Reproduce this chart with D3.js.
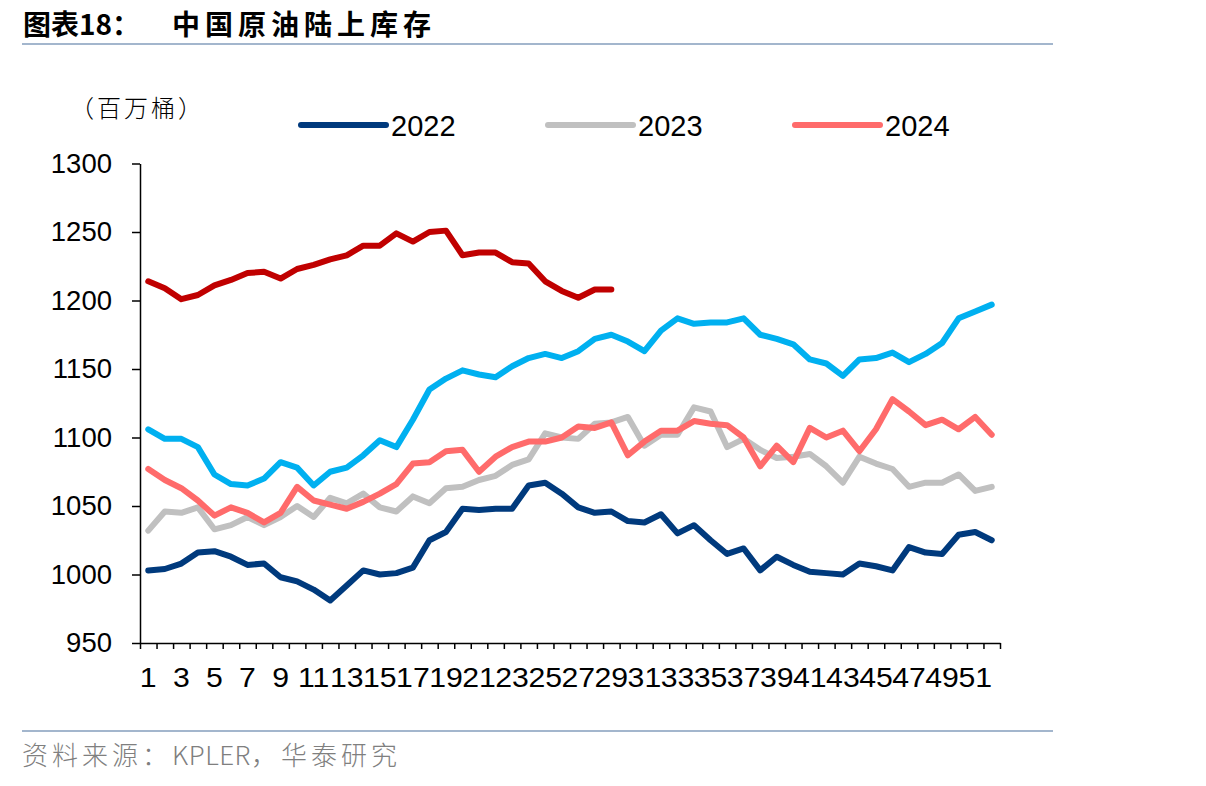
<!DOCTYPE html>
<html>
<head>
<meta charset="utf-8">
<script src="https://cdn.jsdelivr.net/npm/d3@7"></script>
<style>
    body { margin: 0; background: #fff; }
    svg { display: block; }
</style>
</head>
<body>
<div id="chart"></div>
<script>
const width = 1206;
const height = 786;

// week numbers on the category axis
const weeks = [1, 2, 3, 4, 5, 6, 7, 8, 9, 10, 11, 12, 13, 14, 15, 16, 17, 18, 19, 20,
    21, 22, 23, 24, 25, 26, 27, 28, 29, 30, 31, 32, 33, 34, 35, 36, 37, 38, 39, 40,
    41, 42, 43, 44, 45, 46, 47, 48, 49, 50, 51, 52];
const weekLabels = [1, 3, 5, 7, 9, 11, 13, 15, 17, 19, 21, 23, 25, 27, 29, 31, 33, 35,
    37, 39, 41, 43, 45, 47, 49, 51];
const yTicks = [950, 1000, 1050, 1100, 1150, 1200, 1250, 1300];

// million barrels
const values2022 = [1003, 1004, 1008, 1016, 1017, 1013, 1007, 1008, 998, 995, 989, 981, 992,
    1003, 1000, 1001, 1005, 1025, 1031, 1048, 1047, 1048, 1048, 1065, 1067, 1059, 1049,
    1045, 1046, 1039, 1038, 1044, 1030, 1036, 1025, 1015, 1019, 1003, 1013, 1007, 1002,
    1001, 1000, 1008, 1006, 1003, 1020, 1016, 1015, 1029, 1031, 1025];
const values2023 = [1032, 1046, 1045, 1049, 1033, 1036, 1042, 1036, 1042, 1050, 1042, 1056,
    1052, 1059, 1049, 1046, 1057, 1052, 1063, 1064, 1069, 1072, 1080, 1084, 1103, 1100,
    1099, 1110, 1111, 1115, 1094, 1102, 1102, 1122, 1119, 1093, 1099, 1091, 1085, 1086,
    1088, 1079, 1067, 1086, 1081, 1077, 1064, 1067, 1067, 1073, 1061, 1064];
const values2024 = [1077, 1069, 1063, 1054, 1043, 1049, 1045, 1038, 1045, 1064, 1054, 1051,
    1048, 1053, 1059, 1066, 1081, 1082, 1090, 1091, 1075, 1086, 1093, 1097, 1097, 1100,
    1108, 1107, 1111, 1087, 1097, 1105, 1105, 1112, 1110, 1109, 1100, 1079, 1094, 1082,
    1107, 1100, 1105, 1090, 1106, 1128, 1119, 1109, 1113, 1106, 1115, 1102];
// two further series drawn without a legend entry
const valuesLightBlue = [1106, 1099, 1099, 1093, 1073, 1066, 1065, 1070, 1082, 1078, 1065,
    1075, 1078, 1087, 1098, 1093, 1113, 1135, 1143, 1149, 1146, 1144, 1152, 1158, 1161,
    1158, 1163, 1172, 1175, 1170, 1163, 1178, 1187, 1183, 1184, 1184, 1187, 1175, 1172,
    1168, 1157, 1154, 1145, 1157, 1158, 1162, 1155, 1161, 1169, 1187, 1192, 1197];
const valuesDarkRed = [1214, 1209, 1201, 1204, 1211, 1215, 1220, 1221, 1216, 1223, 1226,
    1230, 1233, 1240, 1240, 1249, 1243, 1250, 1251, 1233, 1235, 1235, 1228, 1227, 1214,
    1207, 1202, 1208, 1208];

const color = {
    y2022: '#003a7d',
    y2023: '#c0c0c0',
    y2024: '#ff6b6b',
    lightBlue: '#00b0f0',
    darkRed: '#c00000'
};

// drawing order: later series sit on top
const series = [
    { name: '2022', values: values2022, color: color.y2022, legend: true },
    { name: '2023', values: values2023, color: color.y2023, legend: true },
    { name: '2024', values: values2024, color: color.y2024, legend: true },
    { name: 'lightBlue', values: valuesLightBlue, color: color.lightBlue, legend: false },
    { name: 'darkRed', values: valuesDarkRed, color: color.darkRed, legend: false }
];

const numFont = '"Liberation Sans", Arial, sans-serif';
const cjkFont = '"Noto Sans CJK SC", "Noto Sans", sans-serif';

const plot = { left: 140, right: 1000, top: 163.5, bottom: 643 };

const svg = d3.select('#chart').append('svg')
    .attr('width', width)
    .attr('height', height)
    .attr('viewBox', '0 0 ' + width + ' ' + height);

// header
svg.append('text')
    .attr('x', 23)
    .attr('y', 35)
    .style('font-family', cjkFont)
    .style('font-weight', 700)
    .style('font-size', '28px')
    .style('fill', '#000')
    .text('图表18：');
svg.append('text')
    .attr('x', 172)
    .attr('y', 35)
    .style('font-family', cjkFont)
    .style('font-weight', 700)
    .style('font-size', '28px')
    .style('letter-spacing', '5px')
    .style('fill', '#000')
    .text('中国原油陆上库存');
svg.append('line')
    .attr('x1', 22).attr('x2', 1053)
    .attr('y1', 44).attr('y2', 44)
    .style('stroke', '#a3b6cd')
    .style('stroke-width', 2);

// footer
svg.append('line')
    .attr('x1', 22).attr('x2', 1053)
    .attr('y1', 731).attr('y2', 731)
    .style('stroke', '#a3b6cd')
    .style('stroke-width', 2);
const source = svg.append('text')
    .attr('x', 22)
    .attr('y', 765)
    .style('font-family', cjkFont)
    .style('font-weight', 300)
    .style('font-size', '26px')
    .style('fill', '#7f7f7f');
source.append('tspan').style('letter-spacing', '4px').text('资料来源：');
source.append('tspan').style('letter-spacing', '0.5px').text('KPLER');
source.append('tspan').style('letter-spacing', '4px').text('，华泰研究');

// unit
svg.append('text')
    .attr('x', 70)
    .attr('y', 117)
    .style('font-family', cjkFont)
    .style('font-weight', 300)
    .style('font-size', '24px')
    .style('letter-spacing', '3px')
    .style('fill', '#000')
    .text('（百万桶）');

// scales
const x = d3.scaleBand()
    .domain(weeks)
    .range([plot.left, plot.right]);
const xEdge = d3.scaleLinear()
    .domain([0.5, weeks.length + 0.5])
    .range([plot.left, plot.right]);
const y = d3.scaleLinear()
    .domain([950, 1300])
    .range([plot.bottom, plot.top]);

function styleAxis(g, fontSize) {
    g.select('.domain').style('stroke', '#000').style('stroke-width', 1.5);
    g.selectAll('.tick line').style('stroke', '#000').style('stroke-width', 1.5);
    g.selectAll('text')
        .style('font-family', numFont)
        .style('font-size', fontSize)
        .style('fill', '#000');
}

// y axis
svg.append('g')
    .attr('transform', 'translate(' + plot.left + ',0)')
    .call(d3.axisLeft(y)
        .tickValues(yTicks)
        .tickFormat(d3.format('d'))
        .tickSize(8)
        .tickPadding(20)
        .tickSizeOuter(0))
    .call(g => styleAxis(g, '27.5px'));

// x axis: tick marks between categories
svg.append('g')
    .attr('transform', 'translate(0,' + plot.bottom + ')')
    .call(d3.axisBottom(xEdge)
        .tickValues(weeks.map(w => w - 0.5).concat([weeks.length + 0.5]))
        .tickFormat('')
        .tickSize(6)
        .tickSizeOuter(0))
    .call(g => styleAxis(g, '27px'));

// x axis: labels on odd weeks, slightly widened so they run together
svg.append('g')
    .attr('transform', 'translate(0,' + plot.bottom + ')')
    .call(d3.axisBottom(x).tickValues(weekLabels).tickSize(0).tickPadding(25))
    .call(g => g.select('.domain').remove())
    .call(g => styleAxis(g, '27px'))
    .call(g => g.selectAll('text').attr('transform', 'scale(1.12,1)'));

// lines
const line = d3.line()
    .x((d, i) => x(weeks[i]) + x.bandwidth() / 2)
    .y(d => y(d));

svg.append('g')
    .selectAll('path')
    .data(series)
    .join('path')
    .attr('d', s => line(s.values))
    .style('fill', 'none')
    .style('stroke', s => s.color)
    .style('stroke-width', 6)
    .style('stroke-linejoin', 'round')
    .style('stroke-linecap', 'round');

// legend
const legendItems = series.filter(s => s.legend);
const legend = svg.append('g')
    .selectAll('g')
    .data(legendItems)
    .join('g')
    .attr('transform', (s, i) => 'translate(' + (301 + i * 247) + ',125)');
legend.append('line')
    .attr('x1', 0).attr('x2', 85)
    .attr('y1', 0).attr('y2', 0)
    .style('stroke', s => s.color)
    .style('stroke-width', 6)
    .style('stroke-linecap', 'round');
legend.append('text')
    .attr('x', 90)
    .attr('y', 10.5)
    .style('font-family', numFont)
    .style('font-size', '29px')
    .style('fill', '#000')
    .text(s => s.name);
</script>
</body>
</html>
